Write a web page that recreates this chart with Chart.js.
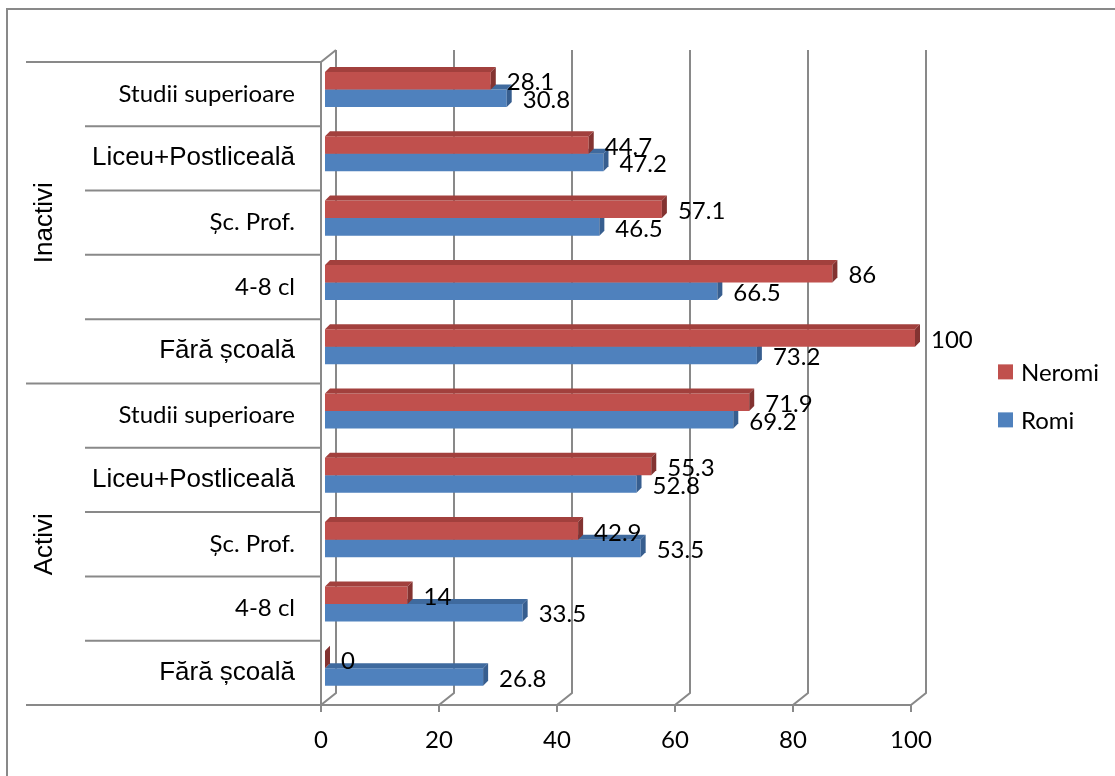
<!DOCTYPE html>
<html>
<head>
<meta charset="utf-8">
<script src="https://cdn.jsdelivr.net/npm/chart.js@4.4.0/dist/chart.umd.min.js"></script>
<style>
  body { margin: 0; background: #fff; }
  canvas { display: block; }
</style>
</head>
<body>
<canvas id="eduChart" width="1115" height="776"></canvas>
<script>
const groups = ["Inactivi", "Activi"];
const categories = [
  "Studii superioare", "Liceu+Postliceală", "Șc. Prof.", "4-8 cl", "Fără școală",
  "Studii superioare", "Liceu+Postliceală", "Șc. Prof.", "4-8 cl", "Fără școală"
];
const neromi = [28.1, 44.7, 57.1, 86, 100, 71.9, 55.3, 42.9, 14, 0];
const romi = [30.8, 47.2, 46.5, 66.5, 73.2, 69.2, 52.8, 53.5, 33.5, 26.8];
const xTicks = [0, 20, 40, 60, 80, 100];

const calibriLike = { family: "Lato", size: 24 };
const arialLike = { family: "'Liberation Sans', Arial", size: 26 };
const gridColor = "#898989";
// darker shades for the fake 3D faces (top, side)
const faces = {
  Neromi: { top: "#a2403d", side: "#833331" },
  Romi: { top: "#3f6a9e", side: "#375e8f" }
};

// grid plane sits a bit in front of the bars, the back wall further behind
const frontX = -4, frontY = 4.6, depthX = 15, depthY = -12, barDepth = 5;

const box3d = {
  id: "box3d",
  beforeDraw(chart) {
    const { ctx } = chart;
    ctx.save();
    ctx.strokeStyle = gridColor;
    ctx.lineWidth = 2;
    ctx.strokeRect(7, 9, 1300, 1000);
    ctx.restore();
  },
  beforeDatasetsDraw(chart) {
    const { ctx, scales: { x, y } } = chart;
    const fx = v => x.getPixelForValue(v) + frontX;
    const fy = k => y.getPixelForValue(k - 0.5) + frontY;
    const top = fy(0), floor = fy(categories.length);
    const perGroup = categories.length / groups.length;

    ctx.save();
    ctx.strokeStyle = gridColor;
    ctx.lineWidth = 2;
    ctx.beginPath();
    xTicks.forEach(v => {
      const px = fx(v);
      ctx.moveTo(px, floor + 7);
      ctx.lineTo(px, floor);
      ctx.lineTo(px + depthX, floor + depthY);
      ctx.lineTo(px + depthX, top + depthY);
    });
    ctx.moveTo(fx(0), floor);
    ctx.lineTo(fx(xTicks[xTicks.length - 1]), floor);
    ctx.moveTo(fx(0), floor);
    ctx.lineTo(fx(0), top);
    ctx.lineTo(fx(0) + depthX, top + depthY);
    for (let k = 0; k <= categories.length; k++) {
      const left = k % perGroup === 0 ? 26 : 85;
      ctx.moveTo(left, fy(k));
      ctx.lineTo(fx(0), fy(k));
    }
    ctx.stroke();
    ctx.restore();
  },
  afterDatasetDraw(chart, args) {
    const { ctx } = chart;
    const ds = chart.data.datasets[args.index];
    const f = faces[ds.label];
    ctx.save();
    args.meta.data.forEach(bar => {
      const { x, y, base, height } = bar.getProps(["x", "y", "base", "height"], true);
      const t = y - height / 2, b = y + height / 2;
      ctx.fillStyle = f.top;
      ctx.beginPath();
      ctx.moveTo(base, t);
      ctx.lineTo(x, t);
      ctx.lineTo(x + barDepth, t - barDepth);
      ctx.lineTo(base + barDepth, t - barDepth);
      ctx.closePath();
      ctx.fill();
      ctx.fillStyle = f.side;
      ctx.beginPath();
      ctx.moveTo(x, t);
      ctx.lineTo(x + barDepth, t - barDepth);
      ctx.lineTo(x + barDepth, b - barDepth);
      ctx.lineTo(x, b);
      ctx.closePath();
      ctx.fill();
    });
    ctx.restore();
  },
  afterDatasetsDraw(chart) {
    const { ctx } = chart;
    ctx.save();
    ctx.fillStyle = "#000";
    ctx.font = `${calibriLike.size}px ${calibriLike.family}`;
    ctx.textAlign = "left";
    ctx.textBaseline = "middle";
    chart.data.datasets.forEach((ds, i) => {
      chart.getDatasetMeta(i).data.forEach((bar, j) => {
        ctx.fillText(String(ds.data[j]), bar.x + 16, bar.y + 2);
      });
    });
    ctx.restore();
  },
  afterDraw(chart) {
    const { ctx, chartArea, scales: { y } } = chart;
    const fy = k => y.getPixelForValue(k - 0.5) + frontY;
    const perGroup = categories.length / groups.length;
    ctx.save();
    ctx.fillStyle = "#000";
    // group labels of the two-level axis
    ctx.font = `${arialLike.size}px ${arialLike.family}`;
    ctx.textAlign = "center";
    ctx.textBaseline = "middle";
    groups.forEach((g, gi) => {
      const mid = (fy(gi * perGroup) + fy((gi + 1) * perGroup)) / 2;
      ctx.save();
      ctx.translate(45, mid);
      ctx.rotate(-Math.PI / 2);
      ctx.fillText(g, 0, 0);
      ctx.restore();
    });
    // legend
    ctx.font = `${calibriLike.size}px ${calibriLike.family}`;
    ctx.textAlign = "left";
    const cy0 = (chartArea.top + chartArea.bottom) / 2 - 7;
    chart.data.datasets.forEach((ds, i) => {
      const cy = cy0 + i * 48;
      ctx.fillStyle = ds.backgroundColor;
      ctx.fillRect(chartArea.right + 83, cy - 7.5, 15, 15);
      ctx.fillStyle = "#000";
      ctx.fillText(ds.label, chartArea.right + 106, cy + 1);
    });
    ctx.restore();
  }
};

const ctx = document.getElementById("eduChart").getContext("2d");
new Chart(ctx, {
  type: "bar",
  data: {
    labels: categories,
    datasets: [
      { label: "Neromi", data: neromi, backgroundColor: "#c0504d" },
      { label: "Romi", data: romi, backgroundColor: "#4f81bd" }
    ]
  },
  options: {
    indexAxis: "y",
    responsive: false,
    animation: false,
    categoryPercentage: 0.545,
    barPercentage: 1.0,
    layout: {
      padding: { top: 57.35, right: 200, bottom: 0, left: 0 }
    },
    plugins: {
      legend: { display: false },
      tooltip: { enabled: false }
    },
    scales: {
      x: {
        min: 0,
        max: 100,
        afterBuildTicks: scale => { scale.ticks = xTicks.map(v => ({ value: v })); },
        afterFit: scale => { scale.height = 75.6; },
        grid: { display: false, drawTicks: false },
        border: { display: false },
        ticks: { color: "#000", font: calibriLike, padding: 25, labelOffset: -4 }
      },
      y: {
        afterFit: scale => { scale.width = 325; },
        grid: { display: false, drawTicks: false },
        border: { display: false },
        ticks: {
          color: "#000",
          padding: 30,
          labelOffset: 4.5,
          font: c => /Liceu|Fără/.test(categories[c.index]) ? arialLike : calibriLike
        }
      }
    }
  },
  plugins: [box3d]
});
</script>
</body>
</html>
